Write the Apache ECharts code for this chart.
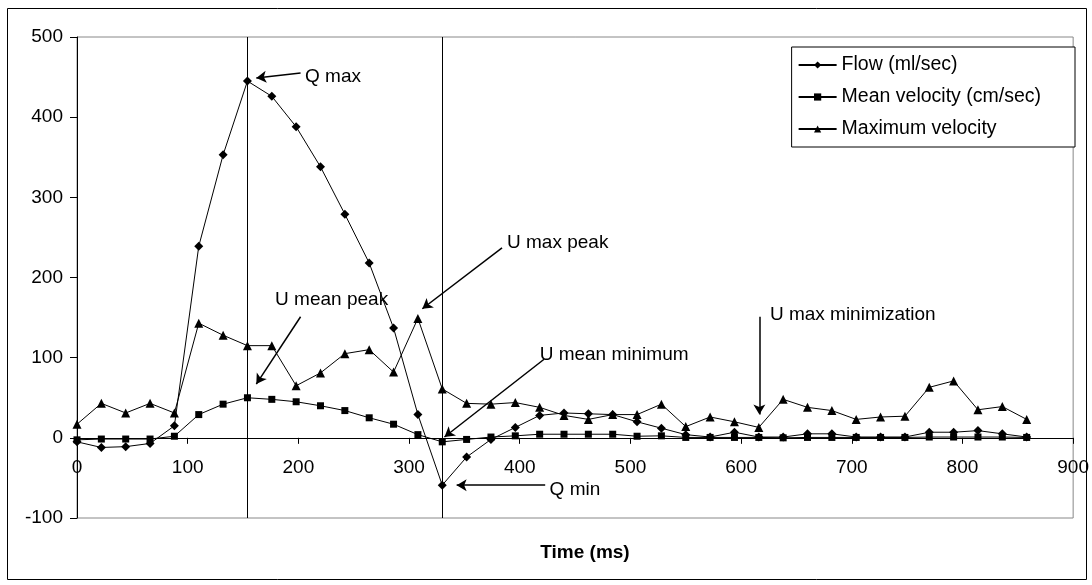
<!DOCTYPE html>
<html><head><meta charset="utf-8">
<script src="https://cdn.jsdelivr.net/npm/echarts@6/dist/echarts.min.js"></script>
<style>html,body{margin:0;padding:0;background:#fff}#c{width:1092px;height:585px}</style>
</head><body><div id="c"></div>
<script>
const time = [0,22,44,66,88,110,132,154,176,198,220,242,264,286,308,330,352,374,396,418,440,462,484,506,528,550,572,594,616,638,660,682,704,726,748,770,792,814,836,858];
const flow = [-5,-12,-11,-7,15,239,353,445,426,388,338,279,218,137,29,-59,-24,-2,13,28,31,30,29,20,12,4,1,7,1,1,5,5,1,1,1,7,7,9,5,1];
const meanVel = [-2.5,-1.5,-1.5,-1.5,2,29,42,50,48,45,40,34,25,17,4,-5,-2,1,2.5,4.5,4.5,4.5,4.5,2,2.5,0.5,0.5,0.5,0.5,0,0.5,0.5,0.5,0.5,0.5,1,1,1,1,0.5];
const maxVel = [17,43,31,43,31,143,128,115,115,65,81,105,110,82,149,61,43,42,44,38,28,23,29,29,42,14,26,20,13,48,38,34,23,26,27,63,71,35,39,23];
const seriesNames = ['Flow (ml/sec)','Mean velocity (cm/sec)','Maximum velocity'];
const xTicks = {min:0,max:900,interval:100};
const yTicks = {min:-100,max:500,interval:100};
const markerTimes = [154,330];
const annotations = [
  {text:'Q max', at:[206,450], from:[202,455], to:[162,449]},
  {text:'U mean peak', at:[179,172], from:[202,151], to:[162,67]},
  {text:'U max peak', at:[388.5,243], from:[384,237], to:[312,161]},
  {text:'U mean minimum', at:[418,103], from:[422,98], to:[332,1]},
  {text:'Q min', at:[427,-65], from:[423,-59], to:[343,-59]},
  {text:'U max minimization', at:[626,153], from:[616.5,151], to:[616.5,29]}
];
const FONT = 'Liberation Sans, Arial, sans-serif';
const pair = a => time.map((t,i)=>[t,a[i]]);
const chart = echarts.init(document.getElementById('c'));
const GRID = {left:77,right:12,top:37,bottom:67};
const plotH = 585 - GRID.top - GRID.bottom;
const zeroOffset = -plotH * (0 - yTicks.min) / (yTicks.max - yTicks.min);
const lineSeries = (name, data, symbol, size) => ({
  name, type:'line', data: pair(data), symbol, symbolSize:size,
  lineStyle:{color:'#000',width:1}, itemStyle:{color:'#000'}, z:3, animation:false
});
chart.setOption({
  backgroundColor:'#fff',
  animation:false,
  textStyle:{fontFamily:FONT},
  title:{text:'Time (ms)', left:580, top:538, textAlign:'center',
    textStyle:{fontFamily:FONT,fontSize:19,fontWeight:'bold',color:'#000'}},
  grid:Object.assign({show:true,borderColor:'#888',borderWidth:1}, GRID),
  legend:{orient:'vertical', right:17, top:47, padding:[8,34,8,6], itemWidth:38, itemHeight:9, itemGap:12,
    backgroundColor:'#fff', borderColor:'#000', borderWidth:1,
    textStyle:{fontFamily:FONT,fontSize:19.5,color:'#000'}, data:seriesNames},
  xAxis:{type:'value', min:xTicks.min, max:xTicks.max, interval:xTicks.interval,
    offset: zeroOffset,
    axisLine:{onZero:false, lineStyle:{color:'#000',width:1}},
    axisTick:{inside:false,length:6,lineStyle:{color:'#000'}},
    axisLabel:{margin:20,fontFamily:FONT,fontSize:19,color:'#000'},
    splitLine:{show:false}},
  yAxis:{type:'value', min:yTicks.min, max:yTicks.max, interval:yTicks.interval,
    axisLine:{show:true,onZero:false,lineStyle:{color:'#000',width:1}},
    axisTick:{show:true,length:7,lineStyle:{color:'#000'}},
    axisLabel:{margin:14,fontFamily:FONT,fontSize:19,color:'#000'},
    splitLine:{show:false}},
  graphic:[{type:'rect', shape:{x:7.5,y:8.5,width:1079,height:571}, style:{fill:'none',stroke:'#000',lineWidth:1}, silent:true, z:-1}],
  series:[
    lineSeries(seriesNames[0], flow, 'diamond', 9),
    lineSeries(seriesNames[1], meanVel, 'rect', 7),
    lineSeries(seriesNames[2], maxVel, 'triangle', 9),
    {type:'scatter', name:'annot', data: annotations.map(a=>({value:a.at, label:{formatter:a.text}})),
      symbolSize:0, silent:true, z:5, itemStyle:{color:'#000',opacity:1},
      label:{show:true, position:'right', distance:0, fontFamily:FONT, fontSize:19, color:'#000', opacity:1},
      markLine:{silent:true, animation:false, symbol:['none','arrow'], symbolSize:[9,10],
        lineStyle:{color:'#000',width:1.5,type:'solid',opacity:1}, label:{show:false},
        data: annotations.map(a=>[{coord:a.from},{coord:a.to}])}},
    {type:'line', name:'vlines', data:[], markLine:{silent:true, animation:false, symbol:'none',
      lineStyle:{color:'#000',width:1,type:'solid',opacity:1}, label:{show:false},
      data: markerTimes.map(t=>({xAxis:t}))}}
  ]
});
</script></body></html>
